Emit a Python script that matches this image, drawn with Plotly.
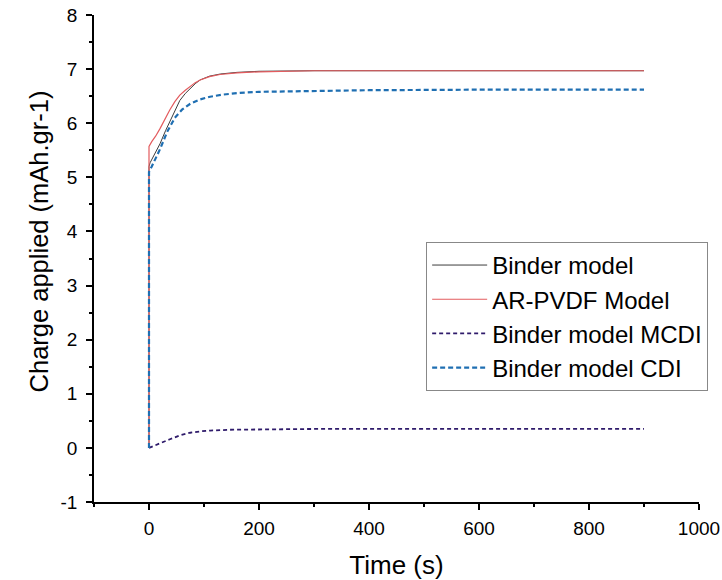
import plotly.graph_objects as go

# ---- data ----
t_binder = [0, 0, 2, 10, 20, 30, 38, 47, 56, 66, 75, 84, 93, 110, 130, 160, 200, 250, 300, 400, 600, 900]
y_binder = [0, 5.2, 5.27, 5.42, 5.62, 5.86, 6.04, 6.24, 6.42, 6.55, 6.65, 6.73, 6.80, 6.87, 6.91, 6.94, 6.96, 6.97, 6.97, 6.97, 6.97, 6.97]

t_arpvdf = [0, 0, 5, 12, 20, 29, 38, 47, 56, 66, 75, 84, 93, 110, 129, 160, 200, 300, 600, 900]
y_arpvdf = [0, 5.57, 5.66, 5.76, 5.90, 6.08, 6.25, 6.40, 6.52, 6.61, 6.68, 6.75, 6.80, 6.86, 6.90, 6.93, 6.95, 6.97, 6.97, 6.97]

t_mcdi = [0, 20, 38, 56, 75, 93, 111, 147, 200, 300, 900]
y_mcdi = [0, 0.09, 0.16, 0.23, 0.28, 0.305, 0.32, 0.335, 0.345, 0.35, 0.35]

t_cdi = [0, 0, 5, 12, 20, 33, 47, 60, 75, 93, 111, 135, 165, 200, 300, 400, 600, 900]
y_cdi = [0, 5.1, 5.2, 5.35, 5.52, 5.84, 6.1, 6.25, 6.36, 6.44, 6.49, 6.53, 6.56, 6.58, 6.60, 6.61, 6.62, 6.62]

names = ["Binder model", "AR-PVDF Model", "Binder model MCDI", "Binder model CDI"]
x_title = "Time (s)"
y_title = "Charge applied (mAh.gr-1)"
y_tick_vals = [-1, 0, 1, 2, 3, 4, 5, 6, 7, 8]
y_tick_text = ["-1", "0", "1", "2", "3", "4", "5", "6", "7", "8"]

FONT = "Arial, Liberation Sans, sans-serif"

fig = go.Figure()
fig.add_trace(go.Scatter(x=t_binder, y=y_binder, mode="lines", name=names[0],
                         line=dict(color="#3c3c3c", width=1)))
fig.add_trace(go.Scatter(x=t_arpvdf, y=y_arpvdf, mode="lines", name=names[1],
                         line=dict(color="#e35b5e", width=1.2)))
fig.add_trace(go.Scatter(x=t_mcdi, y=y_mcdi, mode="lines", name=names[2],
                         line=dict(color="#2f1b6b", width=1.8, dash="4px,3px")))
fig.add_trace(go.Scatter(x=t_cdi, y=y_cdi, mode="lines", name=names[3],
                         line=dict(color="#1f6fb2", width=2.2, dash="5px,3px")))

axis_common = dict(
    showline=True, linecolor="black", linewidth=1.5,
    ticks="outside", ticklen=6, tickwidth=1.5, tickcolor="black",
    showgrid=False, zeroline=False, mirror=False,
    tickfont=dict(family=FONT, size=19, color="black"),
)

fig.update_xaxes(range=[-100, 1000], dtick=200, tick0=0,
                 minor=dict(dtick=100, ticks="outside", ticklen=3, tickwidth=1.5, tickcolor="black"),
                 title=dict(text=x_title, font=dict(family=FONT, size=26, color="black"), standoff=20),
                 ticklabelstandoff=2,
                 **axis_common)
fig.update_yaxes(range=[-1, 8], tickmode="array", tickvals=y_tick_vals, ticktext=y_tick_text,
                 minor=dict(dtick=0.5, tick0=0, ticks="outside", ticklen=3, tickwidth=1.5, tickcolor="black"),
                 ticklabelstandoff=5,
                 **axis_common)

fig.add_annotation(text=y_title, xref="paper", yref="paper",
                   x=-0.0909, y=0.535, xanchor="center", yanchor="middle",
                   textangle=-90, showarrow=False,
                   font=dict(family=FONT, size=25.5, color="black"))

fig.update_layout(
    width=722, height=580,
    margin=dict(l=94, r=23, t=15, b=78, autoexpand=False),
    paper_bgcolor="white", plot_bgcolor="white",
    font=dict(family=FONT, color="black"),
    legend=dict(x=0.549, y=0.534, xanchor="left", yanchor="top",
                bordercolor="#888888", borderwidth=1, bgcolor="white",
                font=dict(family=FONT, size=24, color="black"),
                tracegroupgap=0, itemwidth=55),
    hovermode=False,
)

fig.write_html("out.html")
